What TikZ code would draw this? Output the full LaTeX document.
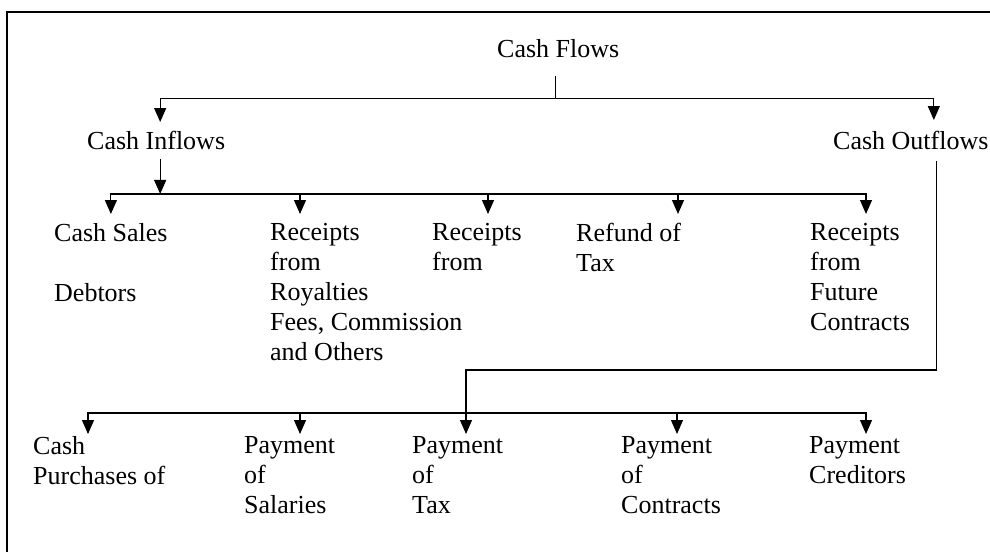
\documentclass[tikz,border=0pt]{standalone}
\usepackage{fontspec}
\setmainfont{Liberation Serif}
\usetikzlibrary{arrows.meta,positioning,calc}

\begin{document}
\begin{tikzpicture}[
    x=1pt, y=-1pt,
    txt/.style={font=\fontsize{26}{30}\selectfont, align=left, anchor=north west, inner sep=0pt},
    line/.style={line width=1.2pt},
    flow/.style={-{Triangle[length=14pt,width=12pt]}, line width=1.2pt}
]
\useasboundingbox (0,0) rectangle (990,552);
\draw[line width=1.5pt] (990,12) -- (7,12) -- (7,552);

\node[txt] (flows) at (497,39) {Cash Flows};
\node[txt] (inflows) at (87,131) {Cash Inflows};
\node[txt] (outflows) at (833,131) {Cash Outflows};

\node[txt] (sales) at (54,223) {Cash Sales\\[30pt]Debtors};
\node[txt] (royal) at (270,223) {Receipts\\from\\Royalties\\Fees, Commission\\and Others};
\node[txt] (rfrom) at (432,223) {Receipts\\from};
\node[txt] (refund) at (576,223) {Refund of\\Tax};
\node[txt] (future) at (810,223) {Receipts\\from\\Future\\Contracts};

\node[txt] (purch) at (33,436) {Cash\\Purchases of};
\node[txt] (salaries) at (244,436) {Payment\\of\\Salaries};
\node[txt] (ptax) at (412,436) {Payment\\of\\Tax};
\node[txt] (contracts) at (621,436) {Payment\\of\\Contracts};
\node[txt] (creditors) at (809,436) {Payment\\Creditors};

\coordinate (cfbus) at ([xshift=-3pt,yshift=-41pt]flows.south);
\coordinate (ibus) at ([xshift=4pt,yshift=-44pt]inflows.south);
\coordinate (obus) at ([xshift=54pt,yshift=23pt]ptax.north west);

\draw[line] ([yshift=-18pt]flows.south -| cfbus) -- (cfbus);
\draw[flow] (cfbus) -| ([xshift=4pt,yshift=9pt]inflows.north);
\draw[flow] (cfbus) -| ([xshift=23pt,yshift=11pt]outflows.north);

\draw[flow] ([xshift=4pt,yshift=-9pt]inflows.south) -- (ibus);
\draw[flow] (ibus) -| ([yshift=9pt]sales.north);
\draw[flow] (ibus) -| ([xshift=30pt,yshift=9pt]royal.north west);
\draw[flow] (ibus) -| ([xshift=56pt,yshift=9pt]rfrom.north west);
\draw[flow] (ibus) -| ([xshift=102pt,yshift=9pt]refund.north west);
\draw[flow] (ibus) -| ([xshift=56pt,yshift=9pt]future.north west);

\draw[flow] ([xshift=26pt,yshift=-11pt]outflows.south) |- ([yshift=43pt]obus) -- ([xshift=54pt,yshift=2pt]ptax.north west);
\draw[flow] (obus) -| ([xshift=55pt,yshift=2pt]purch.north west);
\draw[flow] (obus) -| ([xshift=56pt,yshift=2pt]salaries.north west);
\draw[flow] (obus) -| ([xshift=56pt,yshift=2pt]contracts.north west);
\draw[flow] (obus) -| ([xshift=57pt,yshift=2pt]creditors.north west);
\end{tikzpicture}
\end{document}
